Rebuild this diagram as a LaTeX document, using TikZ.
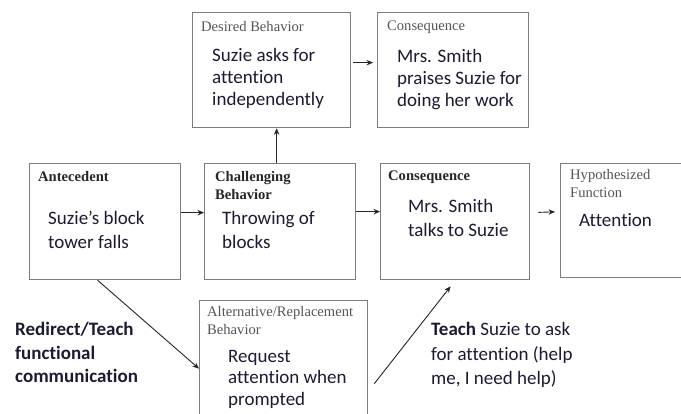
\documentclass[tikz,border=0pt]{standalone}
\usepackage{fontspec}
\setmainfont{Liberation Serif}
\newfontfamily\bodyfont[Ligatures=NoCommon]{Carlito}
\usetikzlibrary{arrows.meta}
\definecolor{boxgray}{RGB}{125,125,125}
\definecolor{bodyink}{RGB}{28,28,48}
\definecolor{hdrgray}{RGB}{85,85,85}
\begin{document}
\begin{tikzpicture}[x=1pt,y=-1pt,
  box/.style={draw=boxgray,line width=1.3pt,inner sep=0pt,anchor=north west,fill=white},
  hdr/.style={anchor=north west,inner sep=0pt,align=left,font=\fontsize{14.6}{18.5}\selectfont,text=hdrgray},
  hdrb/.style={hdr,font=\fontsize{14.6}{18.5}\selectfont\bfseries,text=black!85},
  body/.style={anchor=north west,inner sep=0pt,align=left,font=\bodyfont\fontsize{19}{24}\selectfont,text=bodyink},
  bodyb/.style={body,font=\bodyfont\fontsize{19}{23.5}\selectfont},
  arr/.style={draw=black!85,line width=0.9pt,-{Stealth[length=6.5pt,width=5.5pt]}}
]
\clip (0,0) rectangle (681,413);
\fill[white] (0,0) rectangle (681,413);

% boxes
\node[box,minimum width=158pt,minimum height=115pt] (db) at (192,12) {};
\node[box,minimum width=151pt,minimum height=115pt] (ct) at (377,12) {};
\node[box,minimum width=151pt,minimum height=116pt] (ant) at (29,163) {};
\node[box,minimum width=151pt,minimum height=116pt] (cb) at (204,163) {};
\node[box,minimum width=149pt,minimum height=116pt] (cm) at (380,163) {};
\node[box,minimum width=130pt,minimum height=114pt] (hf) at (560,163) {};
\node[box,minimum width=168pt,minimum height=130pt] (alt) at (199,300) {};

% headers
\node[hdr] (dbh) at (201,21) {Desired Behavior};
\node[hdr] (cth) at (387,21) {Consequence};
\node[hdrb] (anth) at (38,171) {Antecedent};
\node[hdrb] (cbh) at (215,171) {Challenging\\Behavior};
\node[hdrb] (cmh) at (388,171) {Consequence};
\node[hdr] (hfh) at (570,169) {Hypothesized\\Function};
\node[hdr] (alth) at (207,306) {Alternative/Replacement\\Behavior};

% body texts
\node[body,font=\bodyfont\fontsize{19}{22}\selectfont] (dbt) at (212,48) {Suzie asks for\\attention\\independently};
\node[body,font=\bodyfont\fontsize{19}{22}\selectfont] (ctt) at (397,49) {Mrs. Smith\\praises Suzie for\\doing her work};
\node[body] (antt) at (48,211) {Suzie’s block\\tower falls};
\node[body] (cbt) at (222,211) {Throwing of\\blocks};
\node[body] (cmt) at (408,199) {Mrs. Smith\\talks to Suzie};
\node[body] (hft) at (579,213) {Attention};
\node[body,font=\bodyfont\fontsize{19}{21.5}\selectfont] (altt) at (228,350) {Request\\attention when\\prompted};

% side labels
\node[bodyb] (redir) at (15,322) {\bfseries Redirect/Teach\\\bfseries functional\\\bfseries communication};
\node[bodyb,font=\bodyfont\fontsize{19}{24.5}\selectfont] (teach) at (431,322) {\textbf{Teach} Suzie to ask\\for attention (help\\me, I need help)};

% connectors
\draw[arr] ([yshift=9pt]ant.east) -- ([yshift=9pt]cb.west);
\draw[arr] ([yshift=10pt]cb.east) -- ([yshift=10pt]cm.west);
\draw[arr,shorten <=8pt,shorten >=5pt] ([yshift=9pt]cm.east) -- ([yshift=9pt]hf.west);
\draw[arr] ([yshift=7.5pt,xshift=2pt]db.east) -- ([yshift=7.5pt,xshift=-4pt]ct.west);
\draw[arr] ([xshift=-3.5pt]cb.north) -- ([xshift=5pt]db.south);
\draw[arr] ([xshift=-7.5pt]ant.south) -- ([yshift=-3pt]alt.west);
\draw[arr] ([xshift=6pt,yshift=-18pt]alt.east) -- ([xshift=-4.5pt,yshift=-6pt]cm.south);
\end{tikzpicture}
\end{document}
